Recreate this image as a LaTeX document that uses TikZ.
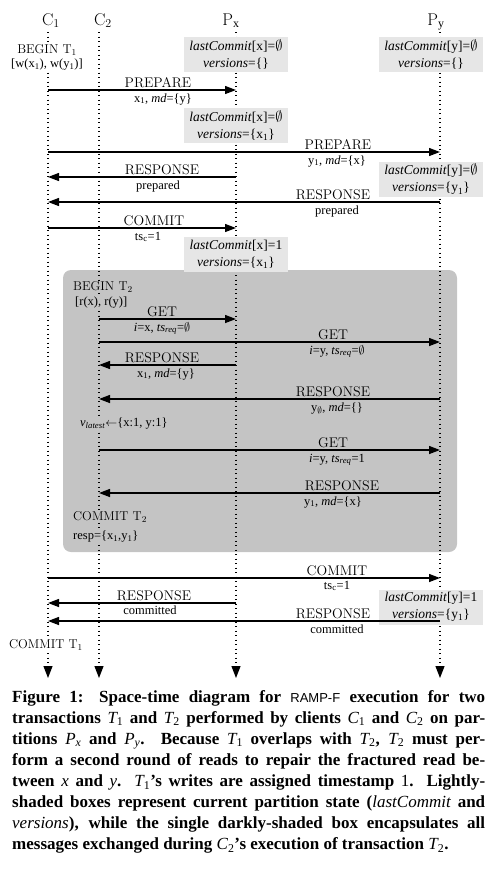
\documentclass[tikz,border=0pt]{standalone}
\usepackage{fontspec}
\setmainfont{Liberation Serif}
\newfontfamily\lmr{Latin Modern Roman}
\newfontfamily\capsans{Liberation Sans}
\usetikzlibrary{arrows.meta}
\definecolor{lightbox}{HTML}{E6E6E6}
\definecolor{darkbox}{HTML}{C4C4C4}
\newcommand\hdrfont{\lmr\fontsize{17}{19}\selectfont}
\newcommand\bigfont{\lmr\fontsize{14}{16}\selectfont}
\newcommand\evfont{\lmr\fontsize{12.8}{15}\selectfont}
\newcommand\smfont{\fontsize{12.5}{14}\selectfont}
\newcommand\statefont{\fontsize{13.5}{17}\selectfont}
\newcommand\capfont{\fontsize{17}{21.1}\selectfont\bfseries}
\newcommand\mi[1]{{\mdseries\itshape #1}}
\newcommand\sbs[1]{\textsubscript{\mdseries\upshape #1}}
\newcommand\sub[1]{\textsubscript{#1}}
\newcommand\es{\ensuremath{\emptyset}}
\begin{document}
\begin{tikzpicture}[x=1pt,y=-1pt,
  life/.style={line width=1.2pt, dash pattern=on 1.2pt off 3.3pt, -{Triangle[length=12pt,width=9pt]}},
  msg/.style={line width=1.3pt, -{Triangle[length=11pt,width=8pt]}},
  state/.style={fill=lightbox, inner sep=0pt, minimum width=104pt, minimum height=35pt, align=center, font=\statefont},
  hdr/.style={anchor=base, inner sep=0pt, font=\hdrfont},
  above lbl/.style={anchor=base, inner sep=0pt, font=\bigfont},
  below lbl/.style={anchor=base, inner sep=0pt, font=\smfont},
  ev/.style={inner sep=1pt, fill=white, font=\evfont},
  evsm/.style={inner sep=1pt, fill=white, font=\smfont},
  dark/.style={fill=darkbox, rounded corners=8pt}
]
\useasboundingbox (0,0) rectangle (497,876);

% dark box
\fill[dark] (63,270) rectangle (457,552);

% headers
\node[hdr] (hc1) at (51,25) {C$_1$};
\node[hdr] (hc2) at (103,25) {C$_2$};
\node[hdr] (hpx) at (231,25) {P$_\mathrm{x}$};
\node[hdr] (hpy) at (436,25) {P$_\mathrm{y}$};

% lifelines
\coordinate (c1t) at (48,32);  \coordinate (c1b) at (48,678);
\coordinate (c2t) at (99,32);  \coordinate (c2b) at (99,678);
\coordinate (pxt) at (236,32); \coordinate (pxb) at (236,678);
\coordinate (pyt) at (440,32); \coordinate (pyb) at (440,678);
\draw[life] (c1t) -- (c1b);
\draw[life] (c2t) -- (c2b);
\draw[life] (pxt) -- (pxb);
\draw[life] (pyt) -- (pyb);

% state boxes
\node[state] (sx1) at (236,54.5) {\textit{lastCommit}[x]=\es\\\textit{versions}=\{\}};
\node[state] (sx2) at (236,125.5) {\textit{lastCommit}[x]=\es\\\textit{versions}=\{x\sub{1}\}};
\node[state] (sx3) at (236,254.5) {\textit{lastCommit}[x]=1\\\textit{versions}=\{x\sub{1}\}};
\node[state] (sy1) at (431,54.5) {\textit{lastCommit}[y]=\es\\\textit{versions}=\{\}};
\node[state] (sy2) at (431,179.5) {\textit{lastCommit}[y]=\es\\\textit{versions}=\{y\sub{1}\}};
\node[state] (sy3) at (431,607) {\textit{lastCommit}[y]=1\\\textit{versions}=\{y\sub{1}\}};

% events on client lines
\node[ev] (b1) at (47,50) {BEGIN T$_1$};
\node[evsm] (b1w) at (47,65) {[w(x\sub{1}), w(y\sub{1})]};
\node[ev, fill=darkbox, anchor=west] (b2) at (72,287) {BEGIN T$_2$};
\node[evsm, fill=darkbox, anchor=west] (b2r) at (74,303) {[r(x), r(y)]};
\node[evsm, fill=darkbox, anchor=west] (vl) at (79,424) {\textit{v}\sub{\textit{latest}}$\leftarrow$\{x:1, y:1\}};
\node[ev, fill=darkbox, anchor=west] (ct2) at (72,517) {COMMIT T$_2$};
\node[evsm, fill=darkbox, anchor=west] (resp) at (72,537) {resp=\{x\sub{1},y\sub{1}\}};
\node[ev] (ct1) at (46,645) {COMMIT T$_1$};

% messages
\draw[msg] (c1t |- 0,90) -- (pxt |- 0,90);
\node[above lbl] at (158,87) {PREPARE};
\node[below lbl] at (163,102) {x\sub{1}, \textit{md}=\{y\}};

\draw[msg] (c1t |- 0,152) -- (pyt |- 0,152);
\node[above lbl] at (338,149) {PREPARE};
\node[below lbl] at (337,164) {y\sub{1}, \textit{md}=\{x\}};

\draw[msg] (pxt |- 0,177) -- (c1t |- 0,177);
\node[above lbl] at (162,174) {RESPONSE};
\node[below lbl] at (158,189) {prepared};

\draw[msg] (pyt |- 0,202) -- (c1t |- 0,202);
\node[above lbl] at (333,199) {RESPONSE};
\node[below lbl] at (337,214) {prepared};

\draw[msg] (c1t |- 0,228) -- (pxt |- 0,228);
\node[above lbl] at (154,225) {COMMIT};
\node[below lbl] at (148,240) {ts\sub{c}=1};

\draw[msg] (c2t |- 0,319) -- (pxt |- 0,319);
\node[above lbl] at (162,316) {GET};
\node[below lbl] at (162,331) {\textit{i}=x, \textit{ts}\sub{\textit{req}}=\es};

\draw[msg] (c2t |- 0,342) -- (pyt |- 0,342);
\node[above lbl] at (333,339) {GET};
\node[below lbl] at (337,354) {\textit{i}=y, \textit{ts}\sub{\textit{req}}=\es};

\draw[msg] (pxt |- 0,365) -- (c2t |- 0,365);
\node[above lbl] at (162,362) {RESPONSE};
\node[below lbl] at (166,377) {x\sub{1}, \textit{md}=\{y\}};

\draw[msg] (pyt |- 0,399) -- (c2t |- 0,399);
\node[above lbl] at (333,396) {RESPONSE};
\node[below lbl] at (337,411) {y\sub{\es}, \textit{md}=\{\}};

\draw[msg] (c2t |- 0,450) -- (pyt |- 0,450);
\node[above lbl] at (333,447) {GET};
\node[below lbl] at (337,462) {\textit{i}=y, \textit{ts}\sub{\textit{req}}=1};

\draw[msg] (pyt |- 0,493) -- (c2t |- 0,493);
\node[above lbl] at (342,490) {RESPONSE};
\node[below lbl] at (333,505) {y\sub{1}, \textit{md}=\{x\}};

\draw[msg] (c1t |- 0,578) -- (pyt |- 0,578);
\node[above lbl] at (337,575) {COMMIT};
\node[below lbl] at (337,589) {ts\sub{c}=1};

\draw[msg] (pxt |- 0,603) -- (c1t |- 0,603);
\node[above lbl] at (154,600) {RESPONSE};
\node[below lbl] at (150,614) {committed};

\draw[msg] (pyt |- 0,621) -- (c1t |- 0,621);
\node[above lbl] at (333,618) {RESPONSE};
\node[below lbl] at (337,633) {committed};

% caption
\node[anchor=north west, inner sep=0pt, text width=473pt, align=justify, font=\capfont] (cap) at (12,690) {\hyphenpenalty=10000\tolerance=9999%
Figure 1: Space-time diagram for {\capsans\mdseries\fontsize{13}{15}\selectfont RAMP-F} execution for two\linebreak
transactions \mi{T}\sbs{1} and \mi{T}\sbs{2} performed by clients \mi{C}\sbs{1} and \mi{C}\sbs{2} on par-\linebreak
titions \mi{P}\sbs{\itshape x} and \mi{P}\sbs{\itshape y}. Because \mi{T}\sbs{1} overlaps with \mi{T}\sbs{2}, \mi{T}\sbs{2} must per-\linebreak
form a second round of reads to repair the fractured read be-\linebreak
tween \mi{x} and \mi{y}. \mi{T}\sbs{1}'s writes are assigned timestamp {\mdseries 1}. Lightly-\linebreak
shaded boxes represent current partition state (\mi{lastCommit} and\linebreak
\mi{versions}), while the single darkly-shaded box encapsulates all\linebreak
messages exchanged during \mi{C}\sbs{2}'s execution of transaction \mi{T}\sbs{2}.};
\end{tikzpicture}
\end{document}
